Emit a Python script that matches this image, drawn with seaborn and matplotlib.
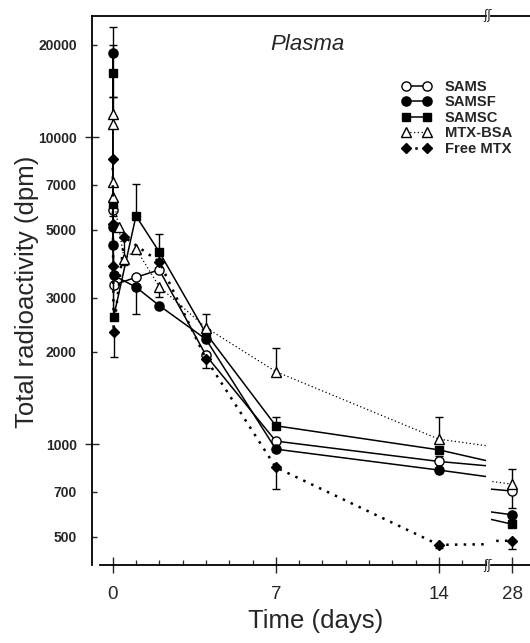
import matplotlib
matplotlib.use("Agg")
import matplotlib.pyplot as plt
import seaborn as sns
import numpy as np
import pandas as pd

# ---------------- data (days, dpm) ----------------
sams_t = [0.003, 0.04, 1, 2, 4, 7, 14, 28]
sams_v = [5800, 3300, 3500, 3700, 1950, 1025, 880, 705]
sams_lo = [250, 0, 0, 0, 180, 0, 40, 85]
sams_hi = [250, 0, 0, 300, 0, 0, 40, 0]

samsf_t = [0.003, 0.01, 0.02, 0.04, 1, 2, 4, 7, 14, 28]
samsf_v = [18800, 5100, 4450, 3550, 3250, 2830, 2200, 965, 825, 590]
samsf_lo = [0, 0, 0, 0, 600, 0, 0, 0, 0, 0]
samsf_hi = [4100, 0, 0, 0, 0, 0, 0, 0, 0, 0]

samsc_t = [0.003, 0.02, 0.04, 1, 2, 4, 7, 14, 28]
samsc_v = [16200, 6050, 2600, 5540, 4230, 2300, 1150, 960, 550]
samsc_lo = [2700, 0, 0, 0, 0, 0, 0, 0, 0]
samsc_hi = [3800, 0, 0, 1500, 600, 0, 80, 0, 50]

bsa_t = [0.003, 0.01, 0.02, 0.03, 0.25, 0.5, 1, 2, 4, 7, 14, 28]
bsa_v = [11900, 11000, 7130, 6380, 5100, 4000, 4330, 3260, 2400, 1726, 1040, 742]
bsa_lo = [0, 0, 0, 0, 0, 0, 0, 240, 0, 0, 0, 0]
bsa_hi = [1600, 0, 0, 0, 0, 0, 0, 0, 250, 340, 190, 90]

free_t = [0.003, 0.01, 0.02, 0.04, 0.5, 2, 4, 7, 14, 28]
free_v = [8490, 5220, 3820, 2330, 4730, 3930, 1900, 842, 471, 486]
free_lo = [0, 0, 0, 400, 900, 0, 0, 126, 12, 30]
free_hi = [0, 0, 0, 0, 0, 0, 0, 0, 0, 0]

series_names = ["SAMS", "SAMSF", "SAMSC", "MTX-BSA", "Free MTX"]
series_data = [
    (sams_t, sams_v, sams_lo, sams_hi),
    (samsf_t, samsf_v, samsf_lo, samsf_hi),
    (samsc_t, samsc_v, samsc_lo, samsc_hi),
    (bsa_t, bsa_v, bsa_lo, bsa_hi),
    (free_t, free_v, free_lo, free_hi),
]

y_major_ticks = [1000, 10000]
y_major_labels = ["1000", "10000"]
y_minor_ticks = [500, 700, 2000, 3000, 5000, 7000, 20000]
y_minor_labels = ["500", "700", "2000", "3000", "5000", "7000", "20000"]
x_left_ticks = [0, 7, 14]
x_left_labels = ["0", "7", "14"]
x_right_ticks = [28]
x_right_labels = ["28"]
x_minor_ticks = list(range(1, 17))

# ---------------- styles ----------------
styles = {
    "SAMS":     dict(marker="o", ms=6.6, mfc="white", ls="-", lw=1.1),
    "SAMSF":    dict(marker="o", ms=6.6, mfc="black", ls="-", lw=1.1),
    "SAMSC":    dict(marker="s", ms=6.0, mfc="black", ls="-", lw=1.1),
    "MTX-BSA":  dict(marker="^", ms=6.6, mfc="white", ls=(0, (1, 2)), lw=0.9),
    "Free MTX": dict(marker="D", ms=5.6, mfc="black", ls=(0, (1, 2.5)), lw=1.8),
}

sns.set_style("ticks")
plt.rcParams["font.family"] = ["Liberation Sans", "DejaVu Sans"]

W, H = 530, 643
fig = plt.figure(figsize=(W / 100, H / 100), dpi=100)

y_bot_px, y_top_px = 565, 16
ax = fig.add_axes([92 / W, (H - y_bot_px) / H, 394 / W, (y_bot_px - y_top_px) / H])
ax2 = fig.add_axes([491 / W, (H - y_bot_px) / H, 39 / W, (y_bot_px - y_top_px) / H], sharey=ax)
ax2.patch.set_visible(False)

ax.set_yscale("log")


def draw(a, with_label):
    for name, (t, v, lo, hi) in zip(series_names, series_data):
        st = styles[name]
        df = pd.DataFrame({"t": t, "v": v})
        t_arr = np.array(t, dtype=float)
        v_arr = np.array(v, dtype=float)
        lo_arr = np.array(lo, dtype=float)
        hi_arr = np.array(hi, dtype=float)
        m = hi_arr > 0
        if m.any():
            a.vlines(t_arr[m], v_arr[m], v_arr[m] + hi_arr[m], colors="k", lw=1.0, zorder=1.5)
            a.scatter(t_arr[m], v_arr[m] + hi_arr[m], marker="_", s=40, color="k",
                      linewidths=1.0, zorder=1.5)
        m = lo_arr > 0
        if m.any():
            a.vlines(t_arr[m], v_arr[m] - lo_arr[m], v_arr[m], colors="k", lw=1.0, zorder=1.5)
            a.scatter(t_arr[m], v_arr[m] - lo_arr[m], marker="_", s=40, color="k",
                      linewidths=1.0, zorder=1.5)
        sns.lineplot(data=df, x="t", y="v", ax=a, color="k", linestyle=st["ls"],
                     linewidth=st["lw"], marker=st["marker"], markersize=st["ms"],
                     markerfacecolor=st["mfc"], markeredgecolor="k", markeredgewidth=1.0,
                     estimator=None, sort=False, label=name if with_label else None,
                     legend=False, zorder=3)
    a.set_xlabel("")
    a.set_ylabel("")


draw(ax, True)
draw(ax2, False)

ax.set_ylim(405, 24800)
ax.set_xlim(-0.888, 16.02)
ax2.set_xlim(27.10, 28.77)

# y ticks
ax.set_yticks(y_major_ticks, labels=y_major_labels)
ax.set_yticks(y_minor_ticks, labels=y_minor_labels, minor=True)
ax.tick_params(axis="y", which="major", direction="inout", length=9.6, width=1.0,
               labelsize=10, pad=6.0)
ax.tick_params(axis="y", which="minor", direction="in", length=3.6, width=1.0,
               labelsize=10, pad=11.0)
for lab in ax.get_yticklabels(which="both"):
    lab.set_fontweight("bold")

# x ticks
ax.set_xticks(x_left_ticks, labels=x_left_labels)
ax.set_xticks(x_minor_ticks, minor=True)
ax2.set_xticks(x_right_ticks, labels=x_right_labels)
ax2.set_xticks([], minor=True)
for a in (ax, ax2):
    a.tick_params(axis="x", which="major", direction="inout", length=12, width=1.0,
                  labelsize=13.5, pad=9)
    a.tick_params(axis="x", which="minor", direction="in", length=3.5, width=0.9)
ax2.tick_params(axis="y", which="both", left=False, right=False, labelleft=False)

# spines
for a in (ax, ax2):
    a.spines["right"].set_visible(False)
    for s in ("top", "bottom", "left"):
        a.spines[s].set_linewidth(1.3)
        a.spines[s].set_color("k")
ax2.spines["left"].set_visible(False)
ax.spines["bottom"].set_bounds(-0.55, 16.02)

# axis-break marks
for ypx in (y_top_px, y_bot_px):
    fig.text(488 / W, 1 - ypx / H, "ʃʃ", family="DejaVu Sans", fontsize=9,
             ha="center", va="center")

# labels
fig.text(27 / W, 1 - 292 / H, "Total radioactivity (dpm)", rotation=90,
         fontsize=18.5, ha="center", va="center")
fig.text(316 / W, 1 - 621 / H, "Time (days)", fontsize=18.5, ha="center", va="center")
fig.text(307 / W, 1 - 45 / H, "Plasma", fontsize=16, style="italic",
         ha="center", va="center")

handles, labels = ax.get_legend_handles_labels()
fig.legend(handles, labels, loc="upper left", bbox_to_anchor=(402 / W, 1 - 80 / H),
           bbox_transform=fig.transFigure, frameon=False, numpoints=2,
           handlelength=2.0, handletextpad=0.9, labelspacing=0.1, borderpad=0,
           borderaxespad=0, prop={"size": 10.6, "weight": "bold"})

fig.savefig("out.png", dpi=100)
